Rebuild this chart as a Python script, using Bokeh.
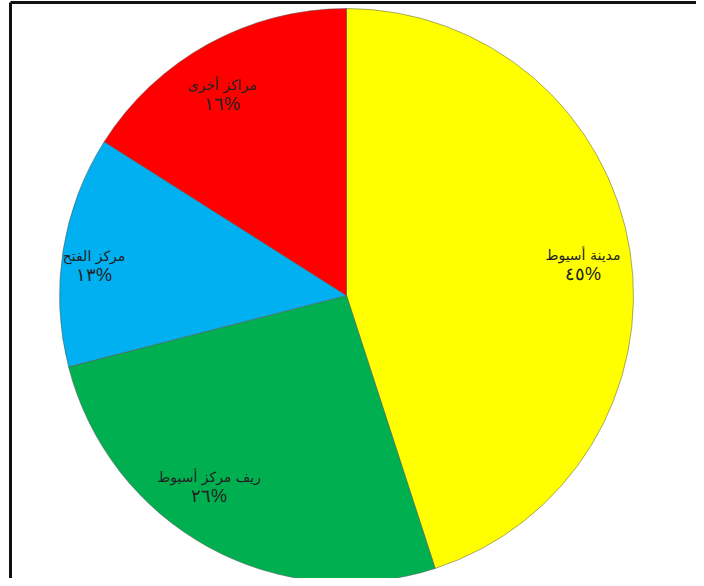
import math
from bokeh.plotting import figure
from bokeh.models import Range1d, ColumnDataSource
from bokeh.core.properties import value
from bokeh.embed import file_html
from bokeh.resources import INLINE

# data (clockwise from 12 o'clock)
categories = ["مدينة أسيوط", "ريف مركز أسيوط", "مركز الفتح", "مراكز أخرى"]
shares = [45, 26, 13, 16]
colors = ["#FFFF00", "#00B050", "#00B0F0", "#FF0000"]

AR_DIGITS = str.maketrans("0123456789", "٠١٢٣٤٥٦٧٨٩")
pct_labels = [str(v).translate(AR_DIGITS) + "%" for v in shares]

# label placement tweaks in screen pixels (layout only)
label_dx = [4, -24, -20, -11]
label_dy = [-6, 15, -7, -6]

W, H = 696, 578
p = figure(width=W, height=H, output_backend="svg", toolbar_location=None,
           x_range=Range1d(0, W), y_range=Range1d(-H, 0),
           min_border=0, outline_line_color=None, background_fill_color="white",
           border_fill_color="white")
p.axis.visible = False
p.grid.visible = False

cx, cy, R = 346, -295, 287
total = sum(shares)
starts, ends, lx, ly = [], [], [], []
cum = 0.0
for i, v in enumerate(shares):
    a0 = math.pi / 2 - 2 * math.pi * cum / total
    cum += v
    a1 = math.pi / 2 - 2 * math.pi * cum / total
    starts.append(a0)
    ends.append(a1)
    mid = (a0 + a1) / 2
    lx.append(cx + 0.82 * R * math.cos(mid) + label_dx[i])
    ly.append(cy + 0.82 * R * math.sin(mid) + label_dy[i])

src = ColumnDataSource(dict(start=starts, end=ends, color=colors,
                            name=categories, pct=pct_labels,
                            lx=lx, ly=ly,
                            ly1=[y + 10 for y in ly], ly2=[y - 9 for y in ly]))

p.wedge(x=cx, y=cy, radius=R, start_angle="start", end_angle="end",
        direction="clock", fill_color="color", line_color="#555555",
        line_alpha=0.5, line_width=1, source=src)

p.text(x="lx", y="ly1", text="name", source=src, text_align="center",
       text_baseline="middle", text_font=value("DejaVu Sans"),
       text_font_size="14px", text_color="#222222")
p.text(x="lx", y="ly2", text="pct", source=src, text_align="center",
       text_baseline="middle", text_font=value("Liberation Sans"),
       text_font_size="18px", text_color="#222222")

# frame (left and top edges)
p.segment(x0=[10, 10], y0=[-2, -2], x1=[10, W], y1=[-H, -2],
          line_color="#111111", line_width=3)

open("out.html", "w").write(file_html(p, INLINE))
